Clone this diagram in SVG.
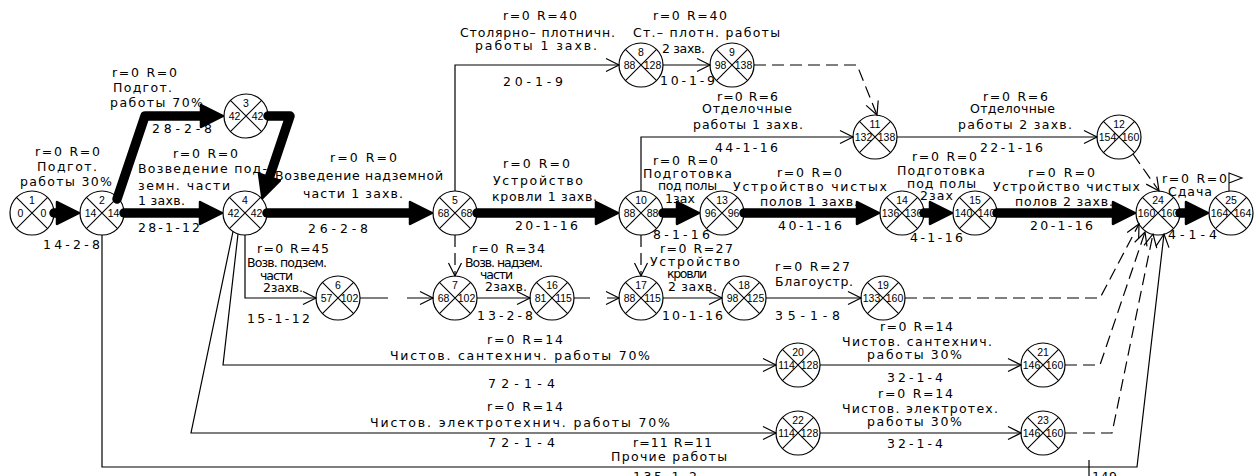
<svg xmlns="http://www.w3.org/2000/svg" width="1255" height="476" viewBox="0 0 1255 476">
<style>
.n circle{fill:#fff;stroke:#000;stroke-width:1.2}
.n path{fill:none;stroke:#000;stroke-width:1.1}
.n text{font-family:"Liberation Sans",Arial,sans-serif;font-size:10.5px;text-anchor:middle;fill:#000}
.thick{fill:none;stroke:#000;stroke-width:9.5;stroke-linecap:round;stroke-linejoin:round;marker-end:url(#T)}
.thin{fill:none;stroke:#000;stroke-width:1.2;marker-end:url(#A)}
.plain{fill:none;stroke:#000;stroke-width:1.2}
.dash{fill:none;stroke:#000;stroke-width:1.2;stroke-dasharray:12 6;marker-end:url(#A)}
.lbl text{font-family:"DejaVu Sans","Liberation Sans",sans-serif;font-size:12.5px;fill:#000}
</style>
<defs>
<marker id="T" markerUnits="userSpaceOnUse" viewBox="0 0 28 28" markerWidth="28" markerHeight="28" refX="2" refY="14" orient="auto" overflow="visible">
<path d="M2,3 L24,14 L2,25 Z" fill="#000" stroke="#000" stroke-width="2.5" stroke-linejoin="round"/>
</marker>
<marker id="A" markerUnits="userSpaceOnUse" viewBox="0 0 16 16" markerWidth="16" markerHeight="16" refX="14" refY="8" orient="auto" overflow="visible">
<path d="M1,1.5 L14,8 L1,14.5" fill="none" stroke="#000" stroke-width="1.2"/>
</marker>
</defs>
<rect width="1255" height="476" fill="#fff"/>

<g id="nodes">
<g id="n1" class="n"><circle cx="32" cy="213" r="22"/><path d="M16.4,197.4L47.6,228.6M47.6,197.4L16.4,228.6"/><text x="32" y="204">1</text><text x="20.5" y="217">0</text><text x="43.5" y="217">0</text></g>
<g id="n2" class="n"><circle cx="102" cy="213" r="22"/><path d="M86.4,197.4L117.6,228.6M117.6,197.4L86.4,228.6"/><text x="102" y="204">2</text><text x="90.5" y="217">14</text><text x="113.5" y="217">14</text></g>
<g id="n3" class="n"><circle cx="246" cy="116" r="22"/><path d="M230.4,100.4L261.6,131.6M261.6,100.4L230.4,131.6"/><text x="246" y="107">3</text><text x="234.5" y="120">42</text><text x="257.5" y="120">42</text></g>
<g id="n4" class="n"><circle cx="245" cy="213" r="22"/><path d="M229.4,197.4L260.6,228.6M260.6,197.4L229.4,228.6"/><text x="245" y="204">4</text><text x="233.5" y="217">42</text><text x="256.5" y="217">42</text></g>
<g id="n5" class="n"><circle cx="455" cy="213" r="22"/><path d="M439.4,197.4L470.6,228.6M470.6,197.4L439.4,228.6"/><text x="455" y="204">5</text><text x="443.5" y="217">68</text><text x="466.5" y="217">68</text></g>
<g id="n6" class="n"><circle cx="338" cy="298" r="22"/><path d="M322.4,282.4L353.6,313.6M353.6,282.4L322.4,313.6"/><text x="338" y="289">6</text><text x="326.5" y="302">57</text><text x="349.5" y="302">102</text></g>
<g id="n7" class="n"><circle cx="455" cy="298" r="22"/><path d="M439.4,282.4L470.6,313.6M470.6,282.4L439.4,313.6"/><text x="455" y="289">7</text><text x="443.5" y="302">68</text><text x="466.5" y="302">102</text></g>
<g id="n8" class="n"><circle cx="641" cy="65" r="22"/><path d="M625.4,49.4L656.6,80.6M656.6,49.4L625.4,80.6"/><text x="641" y="56">8</text><text x="629.5" y="69">88</text><text x="652.5" y="69">128</text></g>
<g id="n9" class="n"><circle cx="732" cy="65" r="22"/><path d="M716.4,49.4L747.6,80.6M747.6,49.4L716.4,80.6"/><text x="732" y="56">9</text><text x="720.5" y="69">98</text><text x="743.5" y="69">138</text></g>
<g id="n10" class="n"><circle cx="641" cy="213" r="22"/><path d="M625.4,197.4L656.6,228.6M656.6,197.4L625.4,228.6"/><text x="641" y="204">10</text><text x="629.5" y="217">88</text><text x="652.5" y="217">88</text></g>
<g id="n11" class="n"><circle cx="875" cy="137" r="22"/><path d="M859.4,121.4L890.6,152.6M890.6,121.4L859.4,152.6"/><text x="875" y="128">11</text><text x="863.5" y="141">132</text><text x="886.5" y="141">138</text></g>
<g id="n12" class="n"><circle cx="1119" cy="137" r="22"/><path d="M1103.4,121.4L1134.6,152.6M1134.6,121.4L1103.4,152.6"/><text x="1119" y="128">12</text><text x="1107.5" y="141">154</text><text x="1130.5" y="141">160</text></g>
<g id="n13" class="n"><circle cx="722" cy="213" r="22"/><path d="M706.4,197.4L737.6,228.6M737.6,197.4L706.4,228.6"/><text x="722" y="204">13</text><text x="710.5" y="217">96</text><text x="733.5" y="217">96</text></g>
<g id="n14" class="n"><circle cx="902" cy="213" r="22"/><path d="M886.4,197.4L917.6,228.6M917.6,197.4L886.4,228.6"/><text x="902" y="204">14</text><text x="890.5" y="217">136</text><text x="913.5" y="217">136</text></g>
<g id="n15" class="n"><circle cx="975" cy="213" r="22"/><path d="M959.4,197.4L990.6,228.6M990.6,197.4L959.4,228.6"/><text x="975" y="204">15</text><text x="963.5" y="217">140</text><text x="986.5" y="217">140</text></g>
<g id="n16" class="n"><circle cx="552" cy="298" r="22"/><path d="M536.4,282.4L567.6,313.6M567.6,282.4L536.4,313.6"/><text x="552" y="289">16</text><text x="540.5" y="302">81</text><text x="563.5" y="302">115</text></g>
<g id="n17" class="n"><circle cx="641" cy="298" r="22"/><path d="M625.4,282.4L656.6,313.6M656.6,282.4L625.4,313.6"/><text x="641" y="289">17</text><text x="629.5" y="302">88</text><text x="652.5" y="302">115</text></g>
<g id="n18" class="n"><circle cx="744" cy="298" r="22"/><path d="M728.4,282.4L759.6,313.6M759.6,282.4L728.4,313.6"/><text x="744" y="289">18</text><text x="732.5" y="302">98</text><text x="755.5" y="302">125</text></g>
<g id="n19" class="n"><circle cx="883" cy="298" r="22"/><path d="M867.4,282.4L898.6,313.6M898.6,282.4L867.4,313.6"/><text x="883" y="289">19</text><text x="871.5" y="302">133</text><text x="894.5" y="302">160</text></g>
<g id="n20" class="n"><circle cx="798" cy="365" r="22"/><path d="M782.4,349.4L813.6,380.6M813.6,349.4L782.4,380.6"/><text x="798" y="356">20</text><text x="786.5" y="369">114</text><text x="809.5" y="369">128</text></g>
<g id="n21" class="n"><circle cx="1043" cy="365" r="22"/><path d="M1027.4,349.4L1058.6,380.6M1058.6,349.4L1027.4,380.6"/><text x="1043" y="356">21</text><text x="1031.5" y="369">146</text><text x="1054.5" y="369">160</text></g>
<g id="n22" class="n"><circle cx="798" cy="433" r="22"/><path d="M782.4,417.4L813.6,448.6M813.6,417.4L782.4,448.6"/><text x="798" y="424">22</text><text x="786.5" y="437">114</text><text x="809.5" y="437">128</text></g>
<g id="n23" class="n"><circle cx="1043" cy="433" r="22"/><path d="M1027.4,417.4L1058.6,448.6M1058.6,417.4L1027.4,448.6"/><text x="1043" y="424">23</text><text x="1031.5" y="437">146</text><text x="1054.5" y="437">160</text></g>
<g id="n24" class="n"><circle cx="1158" cy="213" r="22"/><path d="M1142.4,197.4L1173.6,228.6M1173.6,197.4L1142.4,228.6"/><text x="1158" y="204">24</text><text x="1146.5" y="217">160</text><text x="1169.5" y="217">160</text></g>
<g id="n25" class="n"><circle cx="1231" cy="213" r="22"/><path d="M1215.4,197.4L1246.6,228.6M1246.6,197.4L1215.4,228.6"/><text x="1231" y="204">25</text><text x="1219.5" y="217">164</text><text x="1242.5" y="217">164</text></g>
</g>

<g id="connectors">
<path class="thick" d="M54,213H57"/>
<path class="thick" d="M124,213H200"/>
<path class="thick" d="M117,199L145,116H201"/>
<path class="thick" d="M268,116H290L269.4,177.2"/>
<path class="thick" d="M267,213H410"/>
<path class="thick" d="M477,213H596"/>
<path class="thick" d="M663,213H677"/>
<path class="thick" d="M744,213H857"/>
<path class="thick" d="M924,213H930"/>
<path class="thick" d="M997,213H1113"/>
<path class="thick" d="M1180,213H1186"/>

<path class="thin" d="M245,235V298H316"/>
<path class="thin" d="M238,234L223,365H776"/>
<path class="thin" d="M233,231.5L191,433H776"/>
<path class="thin" d="M455,191V65H619"/>
<path class="thin" d="M663,65H710"/>
<path class="thin" d="M641,191V137H853"/>
<path class="thin" d="M897,137H1097"/>
<path class="thin" d="M477,298H530"/>
<path class="thin" d="M663,298H722"/>
<path class="thin" d="M766,298H861"/>
<path class="thin" d="M820,365H1021"/>
<path class="thin" d="M820,433H1021"/>
<path class="thin" d="M102,235V467H1137L1164,234"/>
<path class="plain" d="M1089,460V476"/>
<path class="thin" d="M360,298H388M407,298H433"/>
<path class="thin" d="M574,298H590M607,298H619"/>

<path class="dash" d="M455,235V276"/>
<path class="dash" d="M641,235V276"/>
<path class="dash" d="M754,65H857L877,115"/>
<path class="dash" d="M1133,154L1159,191"/>
<path class="dash" d="M905,298H1100L1139,224"/>
<path class="dash" d="M1065,365H1100L1145,232"/>
<path class="dash" d="M1065,433H1112L1153,234"/>

<path d="M1229,191V173L1242,178L1229,183" fill="none" stroke="#000" stroke-width="1.1"/>
</g>

<g id="labels" class="lbl">
<text x="35" y="156" textLength="65" lengthAdjust="spacing">r=0 R=0</text>
<text x="37" y="171" textLength="60" lengthAdjust="spacing">Подгот.</text>
<text x="20" y="186" textLength="92" lengthAdjust="spacing">работы 30%</text>
<text x="43" y="249" textLength="57" lengthAdjust="spacing">14-2-8</text>

<text x="112" y="77" textLength="65" lengthAdjust="spacing">r=0 R=0</text>
<text x="113" y="92" textLength="59" lengthAdjust="spacing">Подгот.</text>
<text x="110" y="107" textLength="93" lengthAdjust="spacing">работы 70%</text>
<text x="152" y="133" textLength="60" lengthAdjust="spacing">28-2-8</text>

<text x="173" y="158" textLength="65" lengthAdjust="spacing">r=0 R=0</text>
<text x="138" y="173" textLength="129" lengthAdjust="spacing">Возведение под-</text>
<text x="138" y="190" textLength="92" lengthAdjust="spacing">земн. части</text>
<text x="138" y="205" textLength="47" lengthAdjust="spacing">1 захв.</text>
<text x="138" y="232" textLength="62" lengthAdjust="spacing">28-1-12</text>

<text x="330" y="162" textLength="67" lengthAdjust="spacing">r=0 R=0</text>
<text x="275" y="180" textLength="168" lengthAdjust="spacing">Возведение надземной</text>
<text x="303" y="198" textLength="100" lengthAdjust="spacing">части 1 захв.</text>
<text x="308" y="233" textLength="60" lengthAdjust="spacing">26-2-8</text>

<text x="503" y="20" textLength="74" lengthAdjust="spacing">r=0 R=40</text>
<text x="460" y="37" textLength="155" lengthAdjust="spacing">Столярно– плотничн.</text>
<text x="475" y="50" textLength="122" lengthAdjust="spacing">работы 1 захв.</text>
<text x="503" y="86" textLength="60" lengthAdjust="spacing">20-1-9</text>

<text x="653" y="20" textLength="74" lengthAdjust="spacing">r=0 R=40</text>
<text x="633" y="37" textLength="147" lengthAdjust="spacing">Ст.– плотн. работы</text>
<text x="662" y="53" textLength="43" lengthAdjust="spacing">2 захв.</text>
<text x="660" y="85" textLength="55" lengthAdjust="spacing">10-1-9</text>

<text x="717" y="101" textLength="61" lengthAdjust="spacing">r=0 R=6</text>
<text x="702" y="113" textLength="90" lengthAdjust="spacing">Отделочные</text>
<text x="693" y="129" textLength="110" lengthAdjust="spacing">работы 1 захв.</text>
<text x="715" y="152" textLength="63" lengthAdjust="spacing">44-1-16</text>

<text x="983" y="101" textLength="65" lengthAdjust="spacing">r=0 R=6</text>
<text x="970" y="113" textLength="85" lengthAdjust="spacing">Отделочные</text>
<text x="958" y="129" textLength="114" lengthAdjust="spacing">работы 2 захв.</text>
<text x="980" y="152" textLength="63" lengthAdjust="spacing">22-1-16</text>

<text x="503" y="168" textLength="67" lengthAdjust="spacing">r=0 R=0</text>
<text x="493" y="185" textLength="90" lengthAdjust="spacing">Устройство</text>
<text x="492" y="201" textLength="105" lengthAdjust="spacing">кровли 1 захв.</text>
<text x="515" y="230" textLength="63" lengthAdjust="spacing">20-1-16</text>

<text x="653" y="165" textLength="65" lengthAdjust="spacing">r=0 R=0</text>
<text x="643" y="178" textLength="89" lengthAdjust="spacing">Подготовка</text>
<text x="658" y="190" textLength="59" lengthAdjust="spacing">под полы</text>
<text x="665" y="203" textLength="30" lengthAdjust="spacing">1зах</text>
<text x="653" y="239" textLength="57" lengthAdjust="spacing">8-1-16</text>

<text x="777" y="177" textLength="65" lengthAdjust="spacing">r=0 R=0</text>
<text x="733" y="191" textLength="154" lengthAdjust="spacing">Устройство чистых</text>
<text x="760" y="206" textLength="98" lengthAdjust="spacing">полов 1 захв.</text>
<text x="778" y="230" textLength="64" lengthAdjust="spacing">40-1-16</text>

<text x="912" y="161" textLength="65" lengthAdjust="spacing">r=0 R=0</text>
<text x="897" y="175" textLength="88" lengthAdjust="spacing">Подготовка</text>
<text x="907" y="188" textLength="69" lengthAdjust="spacing">под полы</text>
<text x="920" y="200" textLength="33" lengthAdjust="spacing">2зах</text>
<text x="910" y="242" textLength="53" lengthAdjust="spacing">4-1-16</text>

<text x="1028" y="177" textLength="67" lengthAdjust="spacing">r=0 R=0</text>
<text x="993" y="191" textLength="147" lengthAdjust="spacing">Устройство чистых</text>
<text x="1015" y="206" textLength="98" lengthAdjust="spacing">полов 2 захв.</text>
<text x="1030" y="230" textLength="63" lengthAdjust="spacing">20-1-16</text>

<text x="1162" y="183" textLength="65" lengthAdjust="spacing">r=0 R=0</text>
<text x="1168" y="196" textLength="44" lengthAdjust="spacing">Сдача</text>
<text x="1168" y="239" textLength="49" lengthAdjust="spacing">4-1-4</text>

<text x="257" y="253" textLength="72" lengthAdjust="spacing">r=0 R=45</text>
<text x="247" y="267" textLength="80" lengthAdjust="spacing">Возв. подзем.</text>
<text x="260" y="280" textLength="33" lengthAdjust="spacing">части</text>
<text x="263" y="292" textLength="40" lengthAdjust="spacing">2захв.</text>
<text x="247" y="323" textLength="63" lengthAdjust="spacing">15-1-12</text>

<text x="472" y="253" textLength="73" lengthAdjust="spacing">r=0 R=34</text>
<text x="465" y="267" textLength="78" lengthAdjust="spacing">Возв. надзем.</text>
<text x="480" y="279" textLength="33" lengthAdjust="spacing">части</text>
<text x="485" y="291" textLength="42" lengthAdjust="spacing">2захв.</text>
<text x="477" y="320" textLength="56" lengthAdjust="spacing">13-2-8</text>

<text x="660" y="253" textLength="73" lengthAdjust="spacing">r=0 R=27</text>
<text x="650" y="266" textLength="90" lengthAdjust="spacing">Устройство</text>
<text x="667" y="278" textLength="40" lengthAdjust="spacing">кровли</text>
<text x="668" y="291" textLength="49" lengthAdjust="spacing">2 захв.</text>
<text x="662" y="320" textLength="61" lengthAdjust="spacing">10-1-16</text>

<text x="775" y="271" textLength="75" lengthAdjust="spacing">r=0 R=27</text>
<text x="775" y="286" textLength="78" lengthAdjust="spacing">Благоустр.</text>
<text x="775" y="320" textLength="65" lengthAdjust="spacing">35-1-8</text>

<text x="487" y="344" textLength="76" lengthAdjust="spacing">r=0 R=14</text>
<text x="390" y="360" textLength="260" lengthAdjust="spacing">Чистов. сантехнич. работы 70%</text>
<text x="488" y="388" textLength="67" lengthAdjust="spacing">72-1-4</text>

<text x="487" y="411" textLength="76" lengthAdjust="spacing">r=0 R=14</text>
<text x="370" y="427" textLength="300" lengthAdjust="spacing">Чистов. электротехнич. работы 70%</text>
<text x="488" y="447" textLength="67" lengthAdjust="spacing">72-1-4</text>

<text x="880" y="331" textLength="73" lengthAdjust="spacing">r=0 R=14</text>
<text x="842" y="346" textLength="150" lengthAdjust="spacing">Чистов. сантехнич.</text>
<text x="867" y="359" textLength="95" lengthAdjust="spacing">работы 30%</text>
<text x="887" y="382" textLength="56" lengthAdjust="spacing">32-1-4</text>

<text x="878" y="398" textLength="75" lengthAdjust="spacing">r=0 R=14</text>
<text x="842" y="413" textLength="156" lengthAdjust="spacing">Чистов. электротех.</text>
<text x="867" y="426" textLength="95" lengthAdjust="spacing">работы 30%</text>
<text x="887" y="448" textLength="56" lengthAdjust="spacing">32-1-4</text>

<text x="633" y="447" textLength="79" lengthAdjust="spacing">r=11 R=11</text>
<text x="611" y="461" textLength="116" lengthAdjust="spacing">Прочие работы</text>
<text x="633" y="481" textLength="64" lengthAdjust="spacing">135-1-2</text>
<text x="1092" y="481" textLength="25" lengthAdjust="spacing">149</text>
</g>
</svg>
